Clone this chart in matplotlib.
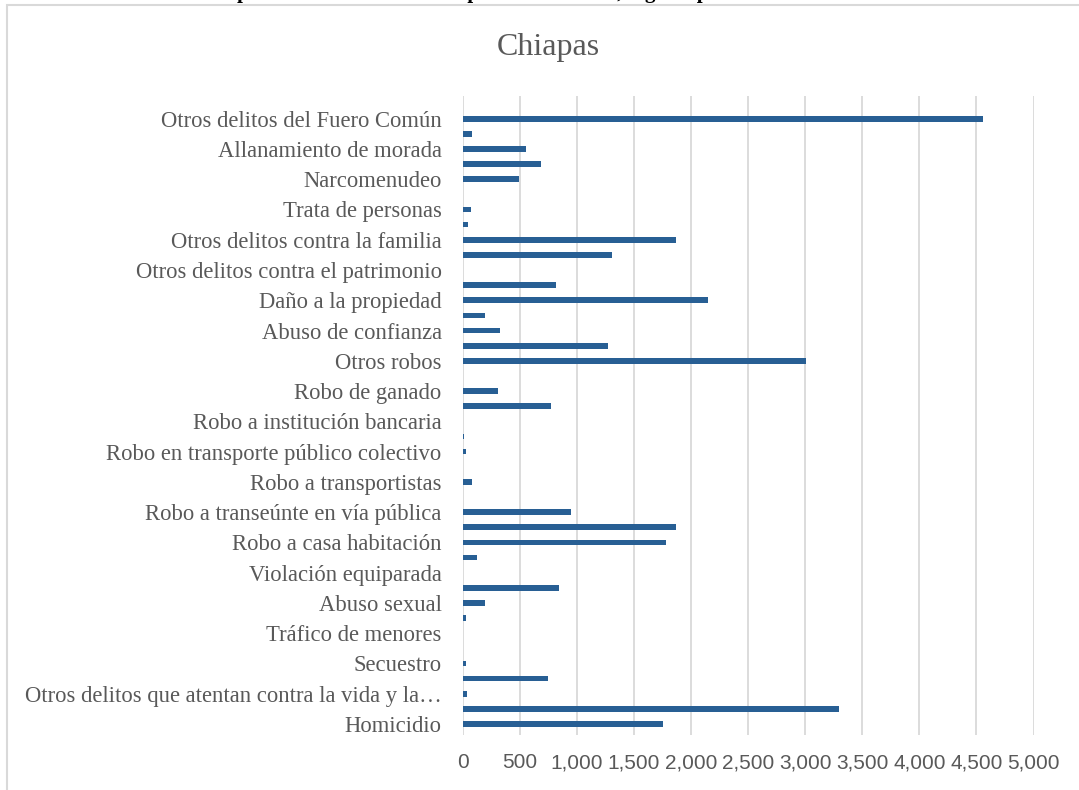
import matplotlib.pyplot as plt
from matplotlib.patches import Rectangle

# categories from bottom (first) to top (last), as Excel plots them
categorias = [
    "Homicidio", "Lesiones",
    "Otros delitos que atentan contra la vida y la integridad corporal",
    "Privación de la libertad personal", "Secuestro", "Rapto",
    "Tráfico de menores", "Otros delitos que atentan contra la libertad personal",
    "Abuso sexual", "Violación simple", "Violación equiparada",
    "Otros delitos que atentan contra la libertad y la seguridad sexual",
    "Robo a casa habitación", "Robo de vehículo",
    "Robo a transeúnte en vía pública", "Robo a transeúnte en espacio abierto al público",
    "Robo a transportistas", "Robo en transporte público individual",
    "Robo en transporte público colectivo", "Robo en transporte individual",
    "Robo a institución bancaria", "Robo a negocio", "Robo de ganado",
    "Robo de maquinaria", "Otros robos", "Fraude", "Abuso de confianza",
    "Extorsión", "Daño a la propiedad", "Despojo",
    "Otros delitos contra el patrimonio", "Violencia familiar",
    "Otros delitos contra la familia", "Corrupción de menores",
    "Trata de personas", "Otros delitos contra la sociedad", "Narcomenudeo",
    "Amenazas", "Allanamiento de morada", "Evasión de presos",
    "Otros delitos del Fuero Común",
]
valores = [
    1755, 3300, 36, 750, 33, 0, 0, 33, 199, 843, 0, 127, 1785, 1869,
    946, 0, 83, 0, 28, 10, 0, 776, 308, 0, 3009, 1278, 330, 194, 2152,
    820, 0, 1313, 1866, 45, 74, 0, 494, 689, 558, 83, 4561,
]
xticks = [0, 500, 1000, 1500, 2000, 2500, 3000, 3500, 4000, 4500, 5000]

gris = "#595959"
azul = "#285f94"

fig = plt.figure(figsize=(10.79, 7.90), dpi=100)
ax = fig.add_axes([462.5 / 1079, 1 - 735 / 790, 571 / 1079, 639 / 790])

pos = list(range(1, len(categorias) + 1))
ax.barh(pos, valores, height=0.38, color=azul, zorder=3)

ax.set_xlim(0, 5000)
ax.set_ylim(0.27, 42.5)
ax.set_xticks(xticks)
ax.set_xticklabels([f"{v:,}" for v in xticks], family="Liberation Sans",
                   fontsize=15, color=gris)

# Excel only shows every other category label
etiquetas = []
for i, c in enumerate(categorias):
    if i % 2 == 0:
        if len(c) > 45:
            c = c[:45].rstrip() + "…"
        etiquetas.append(c)
    else:
        etiquetas.append("")
ax.set_yticks(pos)
ax.set_yticklabels(etiquetas, family="Liberation Serif", fontsize=16.3, color=gris)
ax.tick_params(axis="y", length=0, pad=15)
ax.tick_params(axis="x", length=0, pad=13)

ax.grid(axis="x", color="#d9d9d9", linewidth=1.3, zorder=0)
for s in ax.spines.values():
    s.set_visible(False)

fig.text(548 / 1079, 1 - 47 / 790, "Chiapas", family="Liberation Serif",
         fontsize=23, color=gris, ha="center", va="center")

# chart frame and the caption above it, cut by the top edge as in the source
fig.patches.append(Rectangle((7 / 1079, -0.05), 1.1, 1 - 5 / 790 + 0.05,
                             transform=fig.transFigure, fill=False,
                             edgecolor="#d9d9d9", linewidth=1.5))
fig.text(800 / 1079, 1 + 2 / 790,
         "Gráfica 1. Número total de personas involucradas en presuntos delitos, según tipo de delito",
         family="Liberation Serif", fontweight="bold", fontsize=15,
         ha="right", va="baseline")

fig.savefig("out.png", dpi=100)
